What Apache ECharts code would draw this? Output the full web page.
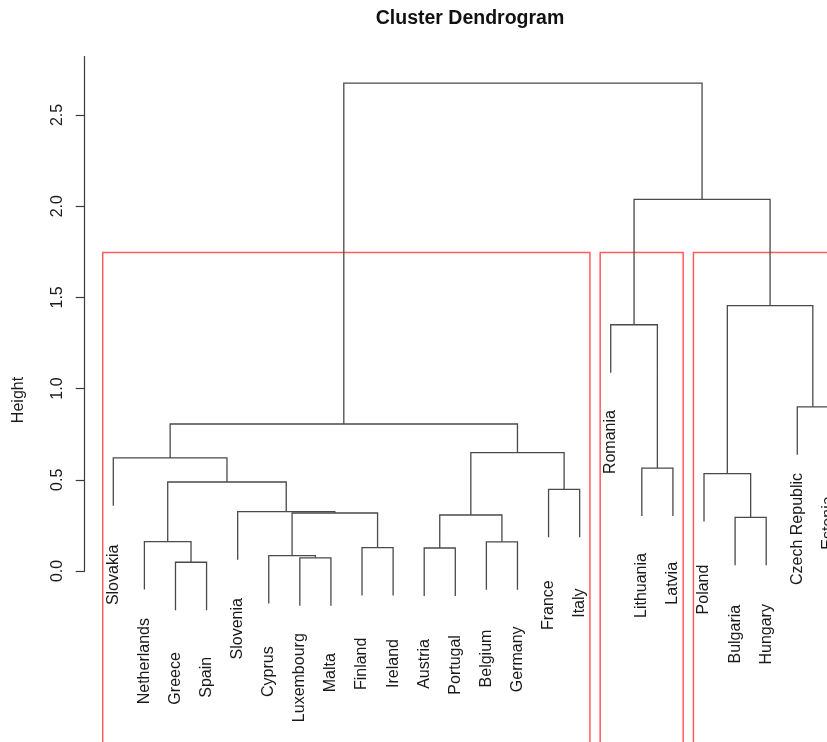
<!DOCTYPE html>
<html>
<head>
<meta charset="utf-8">
<script src="https://cdn.jsdelivr.net/npm/echarts@6/dist/echarts.min.js"></script>
<style>
  html, body { margin: 0; padding: 0; background: #ffffff; }
  #chart { width: 827px; height: 742px; }
</style>
</head>
<body>
<div id="chart"></div>
<script>
// Leaves in plotting order, left to right
const leafLabels = [
  'Slovakia', 'Netherlands', 'Greece', 'Spain', 'Slovenia', 'Cyprus',
  'Luxembourg', 'Malta', 'Finland', 'Ireland', 'Austria', 'Portugal',
  'Belgium', 'Germany', 'France', 'Italy', 'Romania', 'Lithuania',
  'Latvia', 'Poland', 'Bulgaria', 'Hungary', 'Czech Republic', 'Estonia'
];

// Agglomeration steps (hclust-style merge table):
// negative = leaf position (1-based), positive = earlier step (1-based)
const mergeLeft   = [-3, -7, -6, -11, -9, -13, -2, -21, 4, 3, -5, -15, 7, -20, -18, -1, 9, 16, -23, -17, 14, 20, 18];
const mergeRight  = [-4, -8,  2, -12, -10, -14, 1, -22, 6, 5, 10, -16, 11,  8, -19, 13, 12, 17, -24, 15, 19, 21, 22];
const mergeHeight = [0.048, 0.072, 0.084, 0.126, 0.128, 0.160, 0.161, 0.294, 0.307, 0.318, 0.325, 0.448,
                     0.488, 0.534, 0.564, 0.620, 0.649, 0.806, 0.900, 1.350, 1.455, 2.037, 2.675];

const heightTicks = [0, 0.5, 1.0, 1.5, 2.0, 2.5];
const clusterCount = 3;
const hangFraction = 0.1;

// ---- tree layout (in leaf units / height units) ----
const nLeaf = leafLabels.length;
const hang = hangFraction * (Math.max(...mergeHeight) - Math.min(...mergeHeight));
const nodeX = [];      // x position of each merge
const nodeLeaves = []; // [first, last] leaf position of each merge

function childX(c) { return c < 0 ? -c : nodeX[c - 1]; }
function childRange(c) { return c < 0 ? [-c, -c] : nodeLeaves[c - 1]; }

const segmentData = [];
const leafEnd = new Array(nLeaf + 1);
mergeHeight.forEach((h, i) => {
  const l = mergeLeft[i], r = mergeRight[i];
  const xl = childX(l), xr = childX(r);
  const yl = l < 0 ? h - hang : mergeHeight[l - 1];
  const yr = r < 0 ? h - hang : mergeHeight[r - 1];
  if (l < 0) leafEnd[-l] = h - hang;
  if (r < 0) leafEnd[-r] = h - hang;
  nodeX.push((xl + xr) / 2);
  const rl = childRange(l), rr = childRange(r);
  nodeLeaves.push([Math.min(rl[0], rr[0]), Math.max(rl[1], rr[1])]);
  segmentData.push([xl, xr, yl, yr, h]);
});

const labelData = leafLabels.map((name, i) => ({ name: name, value: [i + 1, leafEnd[i + 1]] }));

// ---- cut into clusterCount groups and box them ----
let groups = [mergeHeight.length]; // start from the root step
for (let k = 1; k < clusterCount; k++) {
  let best = -1, bestH = -Infinity;
  groups.forEach((g, j) => { if (g > 0 && mergeHeight[g - 1] > bestH) { bestH = mergeHeight[g - 1]; best = j; } });
  const g = groups[best];
  groups.splice(best, 1, mergeLeft[g - 1], mergeRight[g - 1]);
}
const sortedDesc = mergeHeight.slice().sort((a, b) => b - a);
const boxTop = (sortedDesc[clusterCount - 2] + sortedDesc[clusterCount - 1]) / 2;
const plotFloor = -1.3;
const boxData = groups.map(g => {
  const r = childRange(g);
  return [r[0] - 0.34, r[1] + 0.33, boxTop, plotFloor];
}).sort((a, b) => a[0] - b[0]);

// ---- label text measuring ----
const labelFont = '16px "Liberation Sans", Arial, sans-serif';
const measureCtx = document.createElement('canvas').getContext('2d');
measureCtx.font = labelFont;
function textWidth(s) { return measureCtx.measureText(s).width; }

const chart = echarts.init(document.getElementById('chart'), null, { renderer: 'canvas' });

chart.setOption({
  animation: false,
  backgroundColor: '#ffffff',
  graphic: [
    {
      type: 'text', x: 470, y: 19,
      style: { text: 'Cluster Dendrogram', align: 'center', verticalAlign: 'middle',
               font: 'bold 19.5px "Liberation Sans", Arial, sans-serif', fill: '#111111' }
    },
    {
      type: 'text', x: 18.5, y: 400, rotation: Math.PI / 2,
      style: { text: 'Height', align: 'center', verticalAlign: 'middle', font: labelFont, fill: '#1a1a1a' }
    }
  ],
  // the plot runs on past the right edge of the canvas; the axis range ends where the canvas does
  grid: { left: 84.7, top: 56.6, right: 0, height: 514.4, containLabel: false },
  xAxis: { type: 'value', min: 0.08, max: 23.956, show: false },
  yAxis: {
    type: 'value', min: 0, max: 2.82, interval: 0.5,
    splitLine: { show: false },
    axisLine: { show: true, lineStyle: { color: '#3a3a3a', width: 1.2 } },
    axisTick: { show: true, length: 9, customValues: heightTicks, lineStyle: { color: '#3a3a3a', width: 1.2 } },
    axisLabel: {
      rotate: 90, margin: 19, fontSize: 16, fontFamily: '"Liberation Sans", Arial, sans-serif',
      color: '#1a1a1a', customValues: heightTicks,
      formatter: v => Number(v).toFixed(1)
    }
  },
  series: [
    {
      type: 'custom', name: 'clusters', clip: false, silent: true,
      data: boxData,
      encode: { x: [0, 1], y: [2, 3] },
      renderItem: (params, api) => {
        const a = api.coord([api.value(0), api.value(2)]);
        const b = api.coord([api.value(1), api.value(3)]);
        return {
          type: 'rect',
          shape: { x: a[0], y: a[1], width: b[0] - a[0], height: b[1] - a[1] },
          style: { stroke: '#ff5c5c', lineWidth: 1.5, fill: null }
        };
      }
    },
    {
      type: 'custom', name: 'dendrogram', clip: false, silent: true,
      data: segmentData,
      encode: { x: [0, 1], y: [2, 3, 4] },
      renderItem: (params, api) => {
        const p0 = api.coord([api.value(0), api.value(2)]);
        const p1 = api.coord([api.value(0), api.value(4)]);
        const p2 = api.coord([api.value(1), api.value(4)]);
        const p3 = api.coord([api.value(1), api.value(3)]);
        return {
          type: 'polyline',
          shape: { points: [p0, p1, p2, p3] },
          style: { stroke: '#4a4a4a', lineWidth: 1.3, fill: null }
        };
      }
    },
    {
      type: 'custom', name: 'labels', clip: false, silent: true,
      data: labelData,
      encode: { x: 0, y: 1 },
      renderItem: (params, api) => {
        const name = leafLabels[params.dataIndex];
        const p = api.coord([api.value(0), api.value(1)]);
        const w = textWidth(name);
        return {
          type: 'text',
          x: p[0], y: p[1] + 63 - 0.4 * w,
          rotation: Math.PI / 2,
          style: { text: name, align: 'right', verticalAlign: 'middle', font: labelFont, fill: '#1a1a1a' }
        };
      }
    }
  ]
});
</script>
</body>
</html>
